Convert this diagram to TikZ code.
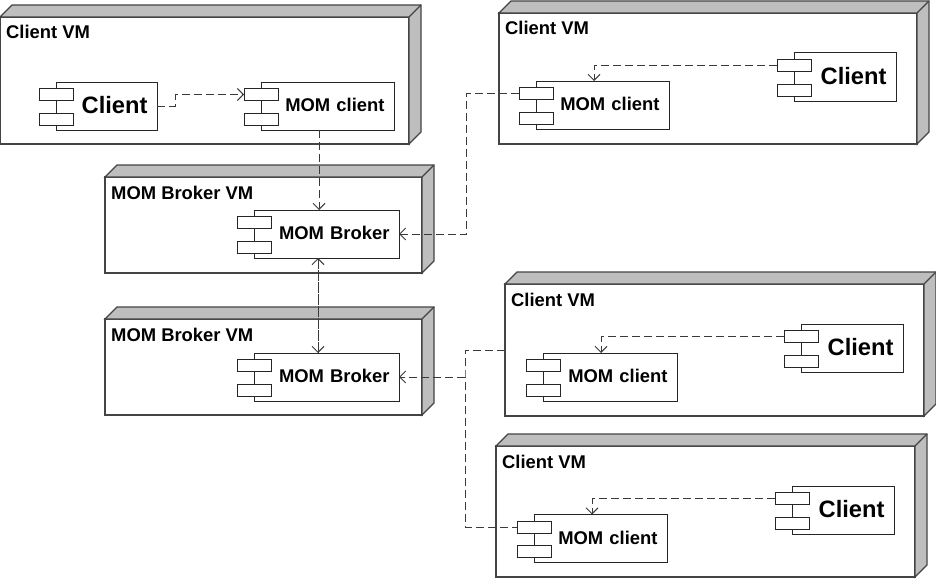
\documentclass[tikz,border=0pt]{standalone}
\usepackage{fontspec}
\setmainfont{Liberation Sans}
\usetikzlibrary{arrows.meta}
\definecolor{VMGray}{HTML}{BEBEBE}
\definecolor{VMLine}{HTML}{444444}
\definecolor{DepLine}{HTML}{3A3A3A}

% name, left, top, width, height, title
\newcommand{\vmnode}[6]{
  \node[vmbox, minimum width=#4pt, minimum height=#5pt] (#1) at (#2,#3) {};
  \draw[vmside] (#1.north west) -- ++(12,-12) -- ++(#4,0) -- ++(0,#5) -- (#1.south east) -- (#1.north east) -- cycle;
  \draw[vmside, fill=none] (#1.north east) -- ++(12,-12);
  \node[vmlabel] (#1-title) at ([shift={(6,22)}]#1.north west) {#6};
}
% name, left, top, width, font, text
\newcommand{\compnode}[6]{
  \node[comp, text width=#4pt-19pt, #5] (#1) at (#2,#3) {#6};
  \node[port] (#1-a) at ([yshift=-12.5pt]#1.north west) {};
  \node[port] (#1-b) at ([yshift=-37pt]#1.north west) {};
}

\begin{document}
\begin{tikzpicture}[
      x=1pt, y=-1pt,
      vmbox/.style={draw=VMLine, fill=white, line width=1.1pt, anchor=north west, inner sep=0pt, outer sep=0pt},
      vmside/.style={draw=VMLine, fill=VMGray, line width=1.1pt, line join=miter},
      vmlabel/.style={anchor=base west, inner sep=0pt, font=\bfseries\fontsize{18.4}{22}\selectfont},
      comp/.style={draw=black!85, fill=white, line width=1pt, anchor=north west, minimum height=48pt, inner xsep=9.5pt, inner ysep=0pt, outer sep=0pt, align=right, text depth=2pt, font=\bfseries\fontsize{18.4}{22}\selectfont},
      bigtext/.style={font=\bfseries\fontsize{23.7}{28}\selectfont},
      port/.style={draw=black!85, fill=white, line width=1pt, minimum width=34pt, minimum height=12pt, inner sep=0pt, outer sep=0pt},
      arrow/.style={draw=DepLine, line width=1pt, dash pattern=on 8pt off 4pt, ->, >={Straight Barb[length=6pt, width=12pt]}},
      dep/.style={draw=DepLine, line width=1pt, dash pattern=on 8pt off 4pt}
    ]
      \useasboundingbox (0,0) rectangle (936,578);

      % Virtual machines
      \vmnode{vma}{0}{17}{409}{127}{Client VM}
      \vmnode{vmb}{499}{13}{418}{131}{Client VM}
      \vmnode{brokera}{105}{177}{317}{96}{MOM Broker VM}
      \vmnode{brokerb}{105}{319}{317}{96}{MOM Broker VM}
      \vmnode{vmc}{505}{284}{419}{132}{Client VM}
      \vmnode{vmd}{496}{446}{419}{131}{Client VM}

      % Components
      \compnode{clienta}{56}{82}{101}{bigtext}{Client}
      \compnode{moma}{261}{82}{133}{}{MOM client}
      \compnode{clientb}{794}{53}{102}{bigtext}{Client}
      \compnode{momb}{536}{81}{133}{}{MOM client}
      \compnode{mba}{254}{210}{145}{}{MOM Broker}
      \compnode{mbb}{254}{353}{145}{}{MOM Broker}
      \compnode{clientc}{801}{324}{102}{bigtext}{Client}
      \compnode{momc}{543}{353}{134}{}{MOM client}
      \compnode{clientd}{792}{486}{102}{bigtext}{Client}
      \compnode{momd}{534}{514.5}{133}{}{MOM client}

      \coordinate (jointa) at (466,234);
      \coordinate (jointb) at (465,377);

      % Inside the VMs
      \draw[arrow] (clienta.east) -- ++(18,0) |- (moma-a.west);
      \draw[arrow] (clientb-a.west) -| ([xshift=-8.5pt]momb.north);
      \draw[arrow] (clientc-a.west) -| ([xshift=-9pt]momc.north);
      \draw[arrow] (clientd-a.west) -| ([xshift=-8.5pt]momd.north);

      % Between the VMs
      \draw[arrow] ([xshift=-8.5pt]moma.south) -- ([xshift=-7.5pt]mba.north);
      \draw[arrow] ([xshift=-8.5pt]mba.south) -- ([xshift=-8.5pt]mbb.north);
      \draw[arrow] ([xshift=-8.5pt]mbb.north) -- ([xshift=-8.5pt]mba.south);
      \draw[arrow] (momb-a.west) -| (jointa) -- (mba.east);
      \draw[dep] (vmc.west) -| (jointb) |- (momd-a.west);
      \draw[arrow] (jointb) -- (mbb.east);

    \end{tikzpicture}
\end{document}
